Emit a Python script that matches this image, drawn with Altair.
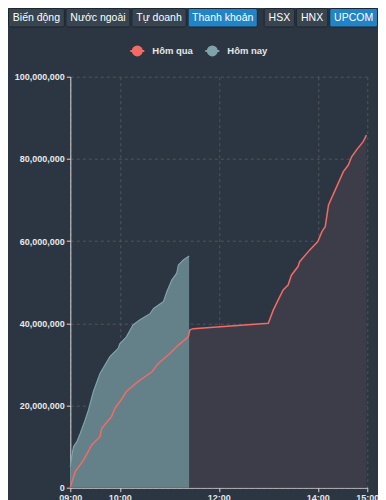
import altair as alt
import pandas as pd

# ---------------- data ----------------
series_names = ["Hôm qua", "Hôm nay"]

yesterday_time = ["09:00", "09:06", "09:16", "09:26", "09:36", "09:38", "09:50", "09:54",
                  "10:00", "10:08", "10:22", "10:39", "10:47", "11:01", "11:11", "11:23",
                  "11:25", "11:29", "13:00", "13:06", "13:12", "13:18", "13:24", "13:28",
                  "13:36", "13:38", "13:50", "14:00", "14:05", "14:09", "14:13", "14:21",
                  "14:31", "14:37", "14:41", "14:47", "14:55", "14:59"]
yesterday_value = [0.2, 3.9, 6.7, 10.4, 12.4, 14.4, 17.3, 19.3,
                   20.9, 23.4, 25.8, 28.2, 30.3, 32.7, 34.7, 36.7,
                   38.4, 38.7, 40.0, 43.2, 45.7, 48.1, 49.3, 51.7,
                   53.8, 55.0, 57.8, 59.9, 62.3, 63.5, 68.8, 72.4,
                   76.9, 78.5, 80.5, 82.2, 84.2, 85.8]  # millions

today_time = ["09:00", "09:02", "09:04", "09:08", "09:12", "09:18", "09:22", "09:28",
              "09:36", "09:48", "09:58", "10:00", "10:08", "10:16", "10:24", "10:37",
              "10:41", "10:53", "10:57", "11:03", "11:09", "11:11", "11:17", "11:24"]
today_value = [5.1, 8.0, 10.0, 11.2, 13.2, 16.5, 18.9, 23.4,
               27.8, 31.9, 33.9, 35.0, 36.7, 39.6, 40.8, 42.4,
               43.6, 45.3, 47.7, 50.5, 52.2, 54.2, 55.4, 56.4]  # millions

x_tick_hours = [9, 10, 12, 14, 15]
y_ticks = [0, 20000000, 40000000, 60000000, 80000000, 100000000]

button_labels = ["Biến động", "Nước ngoài", "Tự doanh", "Thanh khoản", "HSX", "HNX", "UPCOM"]
active_buttons = ["Thanh khoản", "UPCOM"]

# ---------------- layout (reference pixels) ----------------
button_left = [2.7, 61.7, 129.3, 187.0, 265.0, 298.0, 332.3]
button_right = [61.0, 128.3, 186.0, 259.0, 297.3, 331.3, 382.3]
PLOT_W, PLOT_H = 297, 411
PAGE_X0, PAGE_X1 = 70.3, 367.3     # plot area in page pixels
PAGE_Y0, PAGE_Y1 = 487.7, 76.7

C_BG = "#2b3642"
C_RED = "#f26b65"
C_TEAL = "#7fa3ab"
C_TEAL_FILL = "#64818a"
C_DARK_FILL = "#3d3d49"
C_GRID = "#51555a"
C_AXIS = "#d8d8d8"
FONT = "Liberation Sans"

DAY = "2024-01-01 "


def to_df(times, vals, name):
    return pd.DataFrame({
        "t": pd.to_datetime([DAY + t for t in times]),
        "v": [v * 1_000_000 for v in vals],
        "series": name,
    })


dfy = to_df(yesterday_time, yesterday_value, series_names[0])
dft = to_df(today_time, today_value, series_names[1])
dfall = pd.concat([dfy, dft], ignore_index=True)


def dt(h):
    return alt.DateTime(year=2024, month=1, date=1, hours=h, minutes=0)


x_scale = alt.Scale(domain=[dt(9), dt(15)])
y_scale = alt.Scale(domain=[0, 100000000], nice=False)

x_axis = alt.Axis(values=[dt(h) for h in x_tick_hours], format="%H:%M", title=None,
                  labelFont=FONT, labelFontSize=9, labelFontWeight="bold", labelColor="#e8e8e8",
                  domainColor=C_AXIS, tickColor=C_AXIS, tickSize=4, labelPadding=2,
                  grid=True, gridColor=C_GRID, gridDash=[3, 3], labelFlush=False)
y_axis = alt.Axis(values=y_ticks, format=",d", title=None,
                  labelFont=FONT, labelFontSize=9, labelFontWeight="bold", labelColor="#e8e8e8",
                  domainColor=C_AXIS, tickColor=C_AXIS, tickSize=4, labelPadding=2,
                  grid=True, gridColor=C_GRID, gridDash=[3, 3])

red_area = alt.Chart(dfy).mark_area(color=C_DARK_FILL, opacity=1).encode(
    x=alt.X("t:T", scale=x_scale, axis=x_axis),
    y=alt.Y("v:Q", scale=y_scale, axis=y_axis),
)

teal_area = alt.Chart(dft).mark_area(
    color=C_TEAL_FILL, opacity=1, line={"color": C_TEAL, "strokeWidth": 1.2}
).encode(
    x=alt.X("t:T", scale=x_scale, axis=None),
    y=alt.Y("v:Q", scale=y_scale, axis=None),
)

red_line = alt.Chart(dfy).mark_line(color=C_RED, strokeWidth=1.5).encode(
    x=alt.X("t:T", scale=x_scale, axis=None),
    y=alt.Y("v:Q", scale=y_scale, axis=None),
)

legend_scale = alt.Scale(domain=series_names, range=[C_RED, C_TEAL])
sym = "M-1,0H1M-0.64,0A0.64,0.64 0 1,0 0.64,0A0.64,0.64 0 1,0 -0.64,0Z"
leg = alt.Legend(title=None, orient="none", direction="horizontal", legendX=59, legendY=-34,
                 symbolType=sym, symbolSize=196, symbolStrokeWidth=2, symbolOpacity=1,
                 labelFont=FONT, labelFontSize=9.5, labelFontWeight="bold", labelColor="#e6e6e6",
                 labelOffset=7, columnPadding=8)

legend_layer = alt.Chart(dfall).mark_point(filled=True, size=0, opacity=0).encode(
    x=alt.X("t:T", scale=x_scale, axis=None),
    y=alt.Y("v:Q", scale=y_scale, axis=None),
    fill=alt.Fill("series:N", scale=legend_scale, legend=leg, sort=series_names),
    stroke=alt.Stroke("series:N", scale=legend_scale, legend=leg, sort=series_names),
)

# ---------------- buttons (decoration) ----------------
sx = 370.0 / (button_right[-1] - button_left[0])
bl = [8 + (a - button_left[0]) * sx for a in button_left]
br = [8 + (b - button_left[0]) * sx for b in button_right]
btn = pd.DataFrame({
    "label": button_labels,
    "x0": [a + 0.5 for a in bl],
    "x1": [b - 0.5 for b in br],
    "xc": [(a + b) / 2 for a, b in zip(bl, br)],
    "y0": 8.5, "y1": 27.0, "yc": 17.8,
    "active": [lab in active_buttons for lab in button_labels],
})
bx = alt.Scale(domain=[PAGE_X0, PAGE_X1])
by = alt.Scale(domain=[PAGE_Y0, PAGE_Y1])

btn_rect = alt.Chart(btn).mark_rect(stroke="#1c2630", strokeWidth=1, cornerRadius=2).encode(
    x=alt.X("x0:Q", scale=bx, axis=None),
    x2="x1:Q",
    y=alt.Y("y0:Q", scale=by, axis=None),
    y2="y1:Q",
    color=alt.condition("datum.active", alt.value("#2284c6"), alt.value("#38454f")),
)
btn_text = alt.Chart(btn).mark_text(font=FONT, fontSize=10.5, color="#ffffff",
                                     align="center", baseline="middle").encode(
    x=alt.X("xc:Q", scale=bx, axis=None),
    y=alt.Y("yc:Q", scale=by, axis=None),
    text="label:N",
)

chart = alt.layer(red_area, teal_area, red_line, legend_layer, btn_rect, btn_text).resolve_scale(
    x="independent", y="independent"
).properties(
    width=PLOT_W, height=PLOT_H,
    autosize=alt.AutoSizeParams(type="none"),
    padding={"left": 62.3, "top": 68.7, "right": 10.7, "bottom": 12},
    background=C_BG,
).configure_view(stroke=None)

chart.save("out.html", embed_options={"renderer": "svg", "actions": False})
